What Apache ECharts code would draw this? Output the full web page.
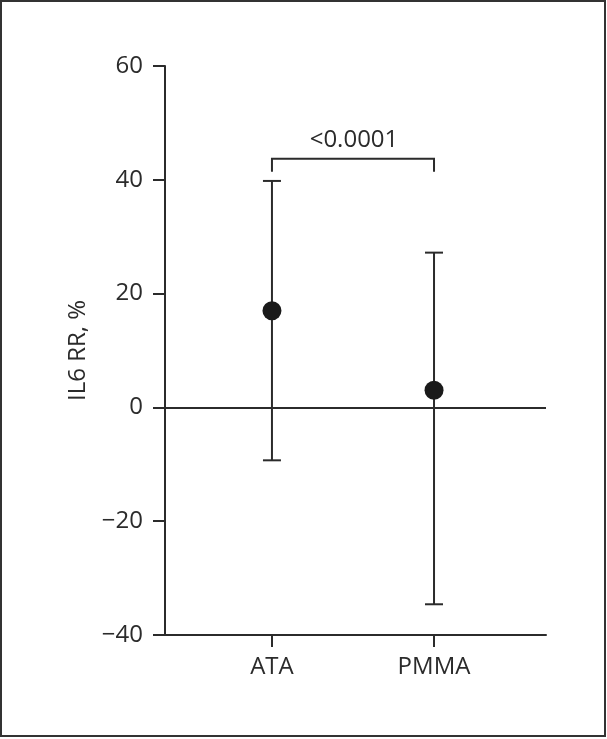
<!DOCTYPE html>
<html>
<head>
<meta charset="utf-8">
<script src="https://cdn.jsdelivr.net/npm/echarts@6/dist/echarts.min.js"></script>
<style>
html,body{margin:0;padding:0;background:#fff;}
#c{width:607px;height:739px;}
</style>
</head>
<body>
<div id="c"></div>
<script>
var categories = ['ATA', 'PMMA'];
var centers = [17, 3];
var lowers = [-9.3, -34.6];
var uppers = [39.8, 27.2];
var yTicks = [-40, -20, 0, 20, 40, 60];
var bracketLow = 41.4;
var bracketHigh = 43.7;
var pLabel = '<0.0001';

var C = '#2b2b2b';
var FONT = 'Open Sans';
var FS = 24;
var xPos = categories.map(function (c, i) { return i + 1; });

var errData = categories.map(function (c, i) { return [xPos[i], lowers[i], uppers[i]]; });
var ptData = categories.map(function (c, i) { return [xPos[i], centers[i]]; });

var chart = echarts.init(document.getElementById('c'));
chart.setOption({
  backgroundColor: '#fff',
  animation: false,
  grid: { left: 165, right: 61, top: 66, bottom: 104 },
  xAxis: {
    type: 'value', min: 0.34, max: 2.691,
    splitLine: { show: false },
    axisLine: { show: true, onZero: false, lineStyle: { color: C, width: 2 } },
    axisTick: { show: true, length: 12, customValues: xPos, lineStyle: { color: C, width: 2 } },
    axisLabel: {
      customValues: xPos, margin: 20, color: C, fontFamily: FONT, fontSize: FS,
      formatter: function (v) { return categories[Math.round(v) - 1] || ''; }
    }
  },
  yAxis: {
    type: 'value', min: -40, max: 60, interval: 20,
    name: 'IL6 RR, %', nameLocation: 'middle', nameGap: 75,
    nameTextStyle: { color: C, fontFamily: FONT, fontSize: FS },
    splitLine: { show: false },
    axisLine: { show: true, lineStyle: { color: C, width: 2 } },
    axisTick: { show: true, length: 12, lineStyle: { color: C, width: 2 } },
    axisLabel: {
      margin: 22, color: C, fontFamily: FONT, fontSize: FS,
      formatter: function (v) { return v < 0 ? '\u2212' + Math.abs(v) : String(v); }
    }
  },
  graphic: [{
    type: 'rect', shape: { x: 1, y: 1, width: 604, height: 735 },
    style: { fill: 'none', stroke: '#333', lineWidth: 2 }, silent: true
  }],
  series: [
    {
      type: 'custom',
      data: errData,
      renderItem: function (params, api) {
        var x = api.value(0);
        var lo = api.coord([x, api.value(1)]);
        var hi = api.coord([x, api.value(2)]);
        var hw = 9;
        var st = { stroke: C, lineWidth: 2 };
        return {
          type: 'group',
          children: [
            { type: 'line', shape: { x1: lo[0], y1: lo[1], x2: hi[0], y2: hi[1] }, style: st },
            { type: 'line', shape: { x1: lo[0] - hw, y1: lo[1], x2: lo[0] + hw, y2: lo[1] }, style: st },
            { type: 'line', shape: { x1: hi[0] - hw, y1: hi[1], x2: hi[0] + hw, y2: hi[1] }, style: st }
          ]
        };
      },
      z: 2
    },
    {
      type: 'custom',
      data: [[xPos[0], xPos[1], bracketLow, bracketHigh]],
      renderItem: function (params, api) {
        var a = api.coord([api.value(0), api.value(2)]);
        var b = api.coord([api.value(0), api.value(3)]);
        var c = api.coord([api.value(1), api.value(3)]);
        var d = api.coord([api.value(1), api.value(2)]);
        return {
          type: 'group',
          children: [
            { type: 'polyline', shape: { points: [a, b, c, d] }, style: { stroke: C, lineWidth: 2, fill: 'none' } },
            { type: 'text', x: (b[0] + c[0]) / 2 + 1, y: b[1] - 7,
              style: { text: pLabel, fill: C, font: FS + 'px "Open Sans"', align: 'center', verticalAlign: 'bottom' } }
          ]
        };
      },
      z: 2
    },
    {
      type: 'scatter',
      data: ptData,
      symbol: 'circle', symbolSize: 19,
      itemStyle: { color: '#1a1a1a', opacity: 1 },
      z: 3,
      markLine: {
        silent: true, symbol: 'none', label: { show: false },
        lineStyle: { color: C, width: 2, type: 'solid' },
        data: [{ yAxis: 0 }]
      }
    }
  ]
});
</script>
</body>
</html>
